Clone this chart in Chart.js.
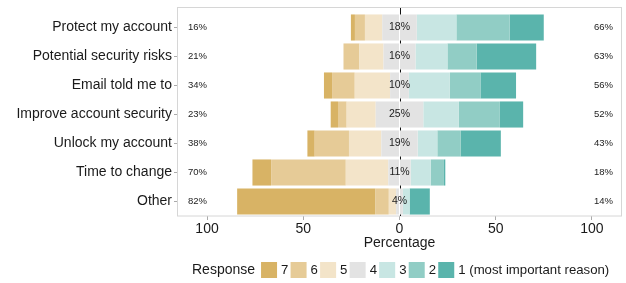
<!DOCTYPE html>
<html>
<head>
<meta charset="utf-8">
<script src="https://cdn.jsdelivr.net/npm/chart.js@4/dist/chart.umd.min.js"></script>
<style>
  html, body { margin: 0; padding: 0; background: #fff; }
  #wrap { width: 626px; height: 283px; }
</style>
</head>
<body>
<div id="wrap"><canvas id="chart"></canvas></div>
<script>
// reasons asked about, top to bottom
const categories = [
  "Protect my account",
  "Potential security risks",
  "Email told me to",
  "Improve account security",
  "Unlock my account",
  "Time to change",
  "Other"
];

// share of answers (%) for each rank, 7 = least important, 1 = most important
const r7 = [2.1, 0, 4.2, 3.8, 3.8, 9.7, 71.9];
const r6 = [5.2, 8.3, 11.8, 4.5, 17.8, 38.8, 6.9];
const r5 = [9.0, 12.5, 18.4, 15.1, 16.8, 22.1, 3.8];
const r4 = [17.9, 16.6, 9.7, 24.7, 18.9, 11.6, 3.5];
const r3 = [20.6, 16.6, 21.3, 18.5, 10.2, 10.4, 3.5];
const r2 = [27.7, 15.2, 15.9, 21.3, 12.2, 6.9, 0];
const r1 = [17.7, 30.9, 18.5, 12.1, 20.8, 0.7, 10.5];

// printed totals
const lowPct = [16, 21, 34, 23, 38, 70, 82];
const midPct = [18, 16, 10, 25, 19, 11, 4];
const highPct = [66, 63, 56, 52, 43, 18, 14];

const xTicks = [-100, -50, 0, 50, 100];

const legendItems = ["7", "6", "5", "4", "3", "2", "1 (most important reason)"];
const colors = {
  "7": "#d8b365",
  "6": "#e6cb97",
  "5": "#f3e4c9",
  "4": "#e3e3e3",
  "3": "#c8e6e3",
  "2": "#91cdc5",
  "1": "#5ab4ac"
};

const FONT = "'Liberation Sans', Arial, sans-serif";
const neg = (a) => a.map((v) => -v);
const half = (a) => a.map((v) => v / 2);

function ds(label, data, key) {
  return {
    label: label,
    data: data,
    backgroundColor: colors[key],
    borderWidth: 0,
    barPercentage: 0.9,
    categoryPercentage: 1,
    stack: "s"
  };
}

const datasets = [
  ds("4", neg(half(r4)), "4"),
  ds("5", neg(r5), "5"),
  ds("6", neg(r6), "6"),
  ds("7", neg(r7), "7"),
  ds("4", half(r4), "4"),
  ds("3", r3, "3"),
  ds("2", r2, "2"),
  ds("1", r1, "1")
];

// panel border, zero line, percentage labels and the legend row
const decorations = {
  id: "decorations",
  beforeDatasetsDraw(chart) {
    const { ctx, chartArea } = chart;
    const x0 = Math.round(chart.scales.x.getPixelForValue(0)) + 0.5;
    ctx.save();
    ctx.strokeStyle = "#d6d6d6";
    ctx.lineWidth = 1;
    ctx.strokeRect(chartArea.left + 0.5, 7.5, chartArea.right - chartArea.left - 1, 208.5);
    ctx.strokeStyle = "#111";
    ctx.beginPath();
    ctx.moveTo(x0, 8);
    ctx.lineTo(x0, 216);
    ctx.stroke();
    ctx.restore();
  },
  afterDatasetsDraw(chart) {
    const { ctx } = chart;
    const xs = chart.scales.x;
    const ys = chart.scales.y;
    ctx.save();
    ctx.fillStyle = "#222";
    ctx.textBaseline = "middle";
    ctx.textAlign = "center";
    categories.forEach((c, i) => {
      const y = ys.getPixelForValue(i);
      ctx.font = "9.5px " + FONT;
      ctx.fillText(lowPct[i] + "%", xs.getPixelForValue(-105), y);
      ctx.fillText(highPct[i] + "%", xs.getPixelForValue(106), y);
      ctx.font = "10.5px " + FONT;
      ctx.fillText(midPct[i] + "%", xs.getPixelForValue(0), y);
    });

    // legend
    ctx.textAlign = "left";
    ctx.fillStyle = "#1a1a1a";
    ctx.font = "14px " + FONT;
    let x = 192;
    const ly = 270;
    ctx.fillText("Response", x, ly);
    x += ctx.measureText("Response").width + 6;
    ctx.font = "13.2px " + FONT;
    legendItems.forEach((lab) => {
      const key = lab.charAt(0);
      ctx.fillStyle = colors[key];
      ctx.fillRect(x, ly - 8, 16, 16);
      ctx.fillStyle = "#1a1a1a";
      ctx.fillText(lab, x + 20, ly);
      x += 20 + ctx.measureText(lab).width + 2.2;
    });
    ctx.restore();
  }
};

new Chart(document.getElementById("chart"), {
  type: "bar",
  data: { labels: categories, datasets: datasets },
  options: {
    indexAxis: "y",
    responsive: true,
    maintainAspectRatio: false,
    animation: false,
    layout: { padding: { top: 13, right: 4, bottom: 27, left: 0 } },
    plugins: {
      legend: { display: false },
      tooltip: { enabled: false }
    },
    scales: {
      x: {
        stacked: true,
        min: -115.6,
        max: 115.6,
        afterBuildTicks: (scale) => {
          scale.ticks = xTicks.map((v) => ({ value: v }));
        },
        afterFit: (scale) => {
          scale.height = 40;
        },
        ticks: {
          font: { family: FONT, size: 14 },
          color: "#1a1a1a",
          padding: 1,
          maxRotation: 0,
          callback: (v) => String(Math.abs(v))
        },
        grid: {
          drawOnChartArea: false,
          drawTicks: true,
          tickLength: 4,
          tickColor: "#aaa"
        },
        border: { display: false },
        title: {
          display: true,
          text: "Percentage",
          font: { family: FONT, size: 14 },
          color: "#1a1a1a",
          padding: { top: 0, bottom: 4 }
        }
      },
      y: {
        stacked: true,
        afterFit: (scale) => {
          scale.width = 177;
        },
        ticks: {
          font: { family: FONT, size: 14 },
          color: "#1a1a1a",
          padding: 2
        },
        grid: {
          offset: false,
          drawOnChartArea: false,
          drawTicks: true,
          tickLength: 3,
          tickColor: "#aaa"
        },
        border: { display: false }
      }
    }
  },
  plugins: [decorations]
});
</script>
</body>
</html>
